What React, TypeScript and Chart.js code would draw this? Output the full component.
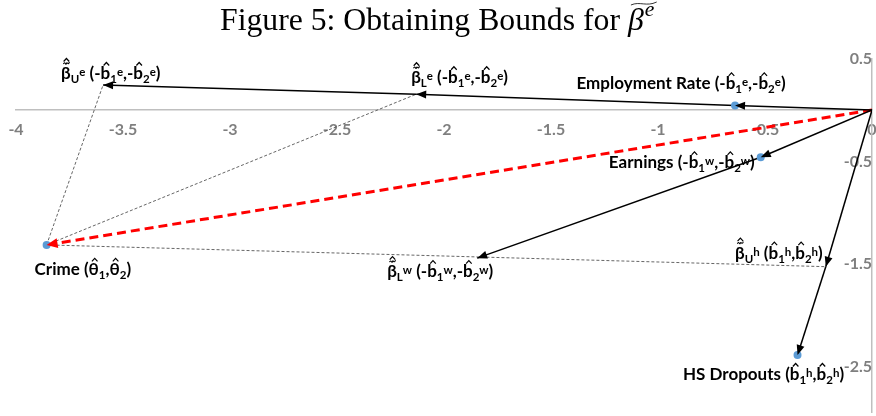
import React, { useEffect, useRef } from 'react';
import { Chart, registerables } from 'chart.js';

Chart.register(...registerables);

// ---------- data ----------
const xTicks = [-4, -3.5, -3, -2.5, -2, -1.5, -1, -0.5, 0];
const yTicks = [-2.5, -1.5, -0.5, 0.5];
const xRange = [-4, 0];
const yRange = [-2.94, 0.5];

const origin = { x: 0, y: 0 };
const employment = { x: -0.64, y: 0.045 };
const earnings = { x: -0.52, y: -0.46 };
const crime = { x: -3.857, y: -1.313 };
const hsDropouts = { x: -0.348, y: -2.385 };
const betaLe = { x: -2.13, y: 0.154 };
const betaUe = { x: -3.593, y: 0.244 };
const betaLw = { x: -1.845, y: -1.442 };
const betaUh = { x: -0.216, y: -1.525 };

const dotPoints = [employment, earnings, crime, hsDropouts];
const solidArrows = [
  [origin, employment],
  [employment, betaLe],
  [betaLe, betaUe],
  [origin, earnings],
  [earnings, betaLw],
  [origin, betaUh],
  [betaUh, hsDropouts],
];
const dashedArrows = [[origin, crime]];
const dottedLines = [
  [crime, betaUe],
  [crime, betaLe],
  [crime, betaUh],
];

type Piece = { t: string; k?: 'sub' | 'sup'; hat?: boolean; tilde?: boolean };

const bHat = (i: string, s: string): Piece[] => [
  { t: 'b', hat: true },
  { t: i, k: 'sub' },
  { t: s, k: 'sup' },
];

const labelEmployment: Piece[] = [
  { t: 'Employment Rate (-' }, ...bHat('1', 'e'), { t: ',-' }, ...bHat('2', 'e'), { t: ')' },
];
const labelEarnings: Piece[] = [
  { t: 'Earnings (-' }, ...bHat('1', 'w'), { t: ',-' }, ...bHat('2', 'w'), { t: ')' },
];
const labelCrime: Piece[] = [
  { t: 'Crime (' }, { t: 'θ', hat: true }, { t: '1', k: 'sub' }, { t: ',' },
  { t: 'θ', hat: true }, { t: '2', k: 'sub' }, { t: ')' },
];
const labelHs: Piece[] = [
  { t: 'HS Dropouts (' }, ...bHat('1', 'h'), { t: ',' }, ...bHat('2', 'h'), { t: ')' },
];
const labelUe: Piece[] = [
  { t: 'β', tilde: true }, { t: 'U', k: 'sub' }, { t: 'e', k: 'sup' }, { t: ' (-' },
  ...bHat('1', 'e'), { t: ',-' }, ...bHat('2', 'e'), { t: ')' },
];
const labelLe: Piece[] = [
  { t: 'β', tilde: true }, { t: 'L', k: 'sub' }, { t: 'e', k: 'sup' }, { t: ' (-' },
  ...bHat('1', 'e'), { t: ',-' }, ...bHat('2', 'e'), { t: ')' },
];
const labelLw: Piece[] = [
  { t: 'β', tilde: true }, { t: 'L', k: 'sub' }, { t: 'w', k: 'sup' }, { t: ' (-' },
  ...bHat('1', 'w'), { t: ',-' }, ...bHat('2', 'w'), { t: ')' },
];
const labelUh: Piece[] = [
  { t: 'β', tilde: true }, { t: 'U', k: 'sub' }, { t: 'h', k: 'sup' }, { t: ' (' },
  ...bHat('1', 'h'), { t: ',' }, ...bHat('2', 'h'), { t: ')' },
];

// label placement (pixel offsets from anchor point)
const labelLayout = [
  { at: employment, pieces: labelEmployment, dx: -54, dy: -16, align: 'center' },
  { at: earnings, pieces: labelEarnings, dx: -6, dy: 11, align: 'right' },
  { at: crime, pieces: labelCrime, dx: -12, dy: 30, align: 'left' },
  { at: hsDropouts, pieces: labelHs, dx: -34, dy: 25, align: 'center' },
  { at: betaUe, pieces: labelUe, dx: -42, dy: -6, align: 'left' },
  { at: betaLe, pieces: labelLe, dx: -5, dy: -11, align: 'left' },
  { at: betaLw, pieces: labelLw, dx: -90, dy: 19, align: 'left' },
  { at: betaUh, pieces: labelUh, dx: -3, dy: -8, align: 'right' },
];

const LABEL_FONT = 'Lato, "Noto Sans", "DejaVu Sans", sans-serif';
const LABEL_SIZE = 17;
const SMALL_SIZE = 11.5;

function drawHat(ctx: CanvasRenderingContext2D, cx: number, apexY: number) {
  ctx.beginPath();
  ctx.moveTo(cx - 2.8, apexY + 3);
  ctx.lineTo(cx, apexY);
  ctx.lineTo(cx + 2.8, apexY + 3);
  ctx.lineWidth = 1.2;
  ctx.stroke();
}

function drawTilde(ctx: CanvasRenderingContext2D, cx: number, y: number, w: number) {
  ctx.beginPath();
  ctx.moveTo(cx - w / 2, y + 1);
  ctx.bezierCurveTo(cx - w / 4, y - 2.5, cx - w / 8, y + 3, cx, y + 0.5);
  ctx.bezierCurveTo(cx + w / 8, y - 2, cx + w / 4, y + 3, cx + w / 2, y - 1);
  ctx.lineWidth = 1.1;
  ctx.stroke();
}

function drawRich(ctx: CanvasRenderingContext2D, pieces: Piece[], x: number, base: number, align: string) {
  ctx.save();
  ctx.fillStyle = '#000';
  ctx.strokeStyle = '#000';
  ctx.textBaseline = 'alphabetic';
  ctx.textAlign = 'left';
  const widths = pieces.map((p) => {
    ctx.font = `bold ${p.k ? SMALL_SIZE : LABEL_SIZE}px ${LABEL_FONT}`;
    return ctx.measureText(p.t).width;
  });
  const total = widths.reduce((a, b) => a + b, 0);
  let cx = align === 'center' ? x - total / 2 : align === 'right' ? x - total : x;
  pieces.forEach((p, i) => {
    ctx.font = `bold ${p.k ? SMALL_SIZE : LABEL_SIZE}px ${LABEL_FONT}`;
    const y = base + (p.k === 'sub' ? 4 : p.k === 'sup' ? -3 : 0);
    ctx.fillText(p.t, cx, y);
    const mid = cx + widths[i] / 2 + 0.5;
    if (p.tilde) {
      drawTilde(ctx, mid, base - 16, 6);
      drawHat(ctx, mid, base - 20.5);
    } else if (p.hat) {
      drawHat(ctx, mid + 0.5, base - 16.5);
    }
    cx += widths[i];
  });
  ctx.restore();
}

function drawArrowHead(ctx: CanvasRenderingContext2D, x0: number, y0: number, x1: number, y1: number, color: string, len: number, half: number) {
  const a = Math.atan2(y1 - y0, x1 - x0);
  ctx.save();
  ctx.translate(x1, y1);
  ctx.rotate(a);
  ctx.beginPath();
  ctx.moveTo(0, 0);
  ctx.lineTo(-len, -half);
  ctx.lineTo(-len, half);
  ctx.closePath();
  ctx.fillStyle = color;
  ctx.fill();
  ctx.restore();
}

const overlayPlugin = {
  id: 'overlay',
  afterDatasetsDraw(chart: any) {
    const ctx: CanvasRenderingContext2D = chart.ctx;
    chart.data.datasets.forEach((ds: any, i: number) => {
      if (!ds.arrowColor) return;
      const meta = chart.getDatasetMeta(i);
      const pts = meta.data;
      if (pts.length < 2) return;
      const p0 = pts[pts.length - 2];
      const p1 = pts[pts.length - 1];
      drawArrowHead(ctx, p0.x, p0.y, p1.x, p1.y, ds.arrowColor, ds.arrowLen, ds.arrowHalf);
    });
  },
  afterDraw(chart: any) {
    const ctx: CanvasRenderingContext2D = chart.ctx;
    const xs = chart.scales.x;
    const ys = chart.scales.y;
    labelLayout.forEach((l) => {
      const px = xs.getPixelForValue(l.at.x);
      const py = ys.getPixelForValue(l.at.y);
      drawRich(ctx, l.pieces, px + l.dx, py + l.dy, l.align);
    });

    // title
    ctx.save();
    ctx.fillStyle = '#000';
    ctx.strokeStyle = '#000';
    ctx.textBaseline = 'alphabetic';
    ctx.textAlign = 'left';
    const titleText = 'Figure 5: Obtaining Bounds for ';
    const fam = '"Liberation Serif", "DejaVu Serif", serif';
    let size = 28;
    ctx.font = `${size}px ${fam}`;
    const w0 = ctx.measureText(titleText).width;
    size = size * (408 / w0);
    ctx.font = `${size}px ${fam}`;
    const tx = 220;
    const tb = 30;
    ctx.fillText(titleText, tx, tb);
    const bx = tx + ctx.measureText(titleText).width;
    ctx.font = `italic ${size}px ${fam}`;
    ctx.fillText('β', bx, tb);
    const bw = ctx.measureText('β').width;
    ctx.font = `italic ${size * 0.68}px ${fam}`;
    ctx.fillText('e', bx + bw + 1, tb - 14);
    // wide tilde over beta
    ctx.beginPath();
    const t0 = bx + 3;
    const t1 = bx + bw + 13;
    const ty = 3;
    ctx.moveTo(t0, ty + 2);
    ctx.bezierCurveTo(t0 + (t1 - t0) * 0.35, ty - 2, t0 + (t1 - t0) * 0.6, ty + 4, t1, ty - 1);
    ctx.lineWidth = 0.8;
    ctx.stroke();
    ctx.restore();
  },
};

const tickFont = { family: 'Lato, "Noto Sans", sans-serif', weight: 'bold' as const, size: 16 };

const noSpace = (vertical: boolean) => (ax: any) => {
  if (vertical) ax.width = 0;
  else ax.height = 0;
  ax.paddingLeft = 0;
  ax.paddingRight = 0;
  ax.paddingTop = 0;
  ax.paddingBottom = 0;
};

export default function App() {
  const ref = useRef<HTMLCanvasElement | null>(null);
  useEffect(() => {
    document.body.style.margin = '0';
    const canvas = ref.current;
    if (!canvas) return;

    const lineDs = (seg: any[], color: string, width: number, dash: number[], arrow: boolean, len = 9, half = 4) => ({
      type: 'scatter' as const,
      data: seg.map((p) => ({ x: p.x, y: p.y })),
      showLine: true,
      borderColor: color,
      borderWidth: width,
      borderDash: dash,
      pointRadius: 0,
      pointHoverRadius: 0,
      fill: false,
      arrowColor: arrow ? color : null,
      arrowLen: len,
      arrowHalf: half,
    });

    const datasets: any[] = [
      {
        type: 'scatter',
        data: dotPoints.map((p) => ({ x: p.x, y: p.y })),
        pointRadius: 4,
        pointBackgroundColor: '#5b9bd5',
        pointBorderWidth: 0,
        showLine: false,
      },
      ...solidArrows.map((s) => lineDs(s, '#000000', 1.5, [], true, 10, 4)),
      ...dashedArrows.map((s) => lineDs(s, '#ff0000', 3, [9, 5], true, 11, 5)),
      ...dottedLines.map((s) => lineDs(s, '#555555', 0.9, [3, 2], false)),
    ];

    const chart = new Chart(canvas, {
      type: 'scatter',
      data: { datasets },
      options: {
        animation: false,
        responsive: false,
        maintainAspectRatio: false,
        events: [],
        layout: { padding: { left: 16, right: 2, top: 58.7, bottom: 0 } },
        plugins: {
          legend: { display: false },
          tooltip: { enabled: false },
          title: { display: false },
        },
        scales: {
          x: {
            type: 'linear',
            min: xRange[0],
            max: xRange[1],
            position: { y: 0 } as any,
            afterBuildTicks: (ax: any) => {
              ax.ticks = xTicks.map((v) => ({ value: v }));
            },
            afterFit: noSpace(false),
            grid: { display: false, drawTicks: false },
            border: { display: true, color: '#bfbfbf', width: 1.5 },
            ticks: {
              autoSkip: false,
              maxRotation: 0,
              padding: 10,
              color: '#7f7f7f',
              font: tickFont,
              callback: (v: any) => String(v),
            },
          },
          y: {
            type: 'linear',
            min: yRange[0],
            max: yRange[1],
            position: { x: 0 } as any,
            afterBuildTicks: (ax: any) => {
              ax.ticks = yTicks.map((v) => ({ value: v }));
            },
            afterFit: noSpace(true),
            grid: { display: false, drawTicks: false },
            border: { display: true, color: '#bfbfbf', width: 1.5 },
            ticks: {
              autoSkip: false,
              padding: 14,
              color: '#7f7f7f',
              font: tickFont,
              callback: (v: any) => String(v),
            },
          },
        },
      },
      plugins: [overlayPlugin],
    });
    return () => chart.destroy();
  }, []);

  return (
    <div style={{ width: 876, height: 416 }}>
      <canvas ref={ref} width={876} height={416} style={{ display: 'block', width: 876, height: 416 }} />
    </div>
  );
}
